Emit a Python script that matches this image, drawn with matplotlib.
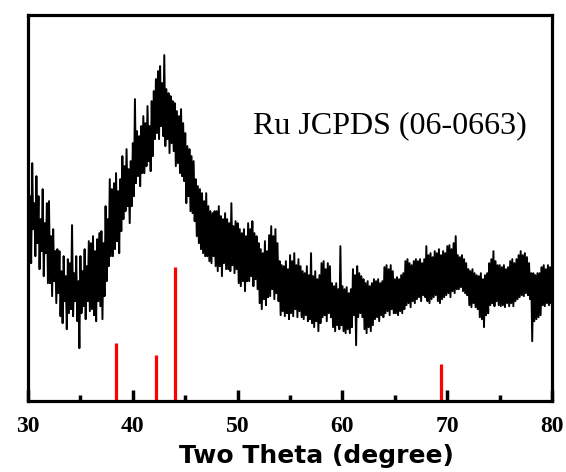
import numpy as np
import matplotlib.pyplot as plt

# 2theta grid, 0.1 degree steps from 30 to 80
two_theta = np.round(np.arange(30.0, 80.001, 0.1), 1)

# intensity (a.u.), 10 points per degree
intensity = [
    228, 150, 205, 138, 238, 172, 198, 145, 225, 158,   # 30
    205, 132, 182, 150, 212, 125, 178, 148, 198, 118,   # 31
    200, 118, 165, 105, 172, 120, 150, 98, 152, 108,    # 32
    150, 85, 130, 78, 145, 100, 125, 72, 142, 88,       # 33
    138, 92, 176, 85, 128, 100, 145, 80, 120, 53,       # 34
    145, 88, 130, 95, 152, 82, 135, 100, 160, 90,       # 35
    158, 92, 165, 86, 150, 80, 162, 100, 168, 95,       # 36
    170, 82, 158, 105, 195, 120, 182, 135, 222, 145,    # 37
    212, 145, 218, 152, 228, 160, 210, 148, 222, 170,   # 38
    245, 182, 235, 190, 252, 195, 232, 178, 240, 195,   # 39
    258, 205, 302, 218, 270, 225, 265, 215, 275, 228,   # 40
    285, 228, 278, 235, 295, 240, 275, 230, 300, 245,   # 41
    310, 262, 322, 268, 330, 262, 335, 275, 318, 265,   # 42
    346, 255, 312, 262, 308, 248, 305, 258, 300, 250,   # 43
    298, 235, 290, 238, 285, 228, 292, 225, 278, 220,   # 44
    268, 198, 255, 205, 252, 190, 245, 188, 240, 180,   # 45
    222, 165, 215, 158, 212, 152, 208, 148, 200, 145,   # 46
    208, 145, 195, 140, 190, 138, 188, 145, 190, 135,   # 47
    190, 130, 195, 135, 185, 125, 182, 138, 188, 132,   # 48
    182, 132, 178, 130, 198, 136, 175, 128, 180, 132,   # 49
    178, 118, 172, 115, 168, 120, 172, 110, 165, 120,   # 50
    178, 120, 172, 125, 180, 115, 168, 122, 165, 112,   # 51
    158, 98, 152, 92, 148, 102, 160, 96, 150, 104,      # 52
    166, 105, 175, 112, 165, 102, 172, 108, 158, 100,   # 53
    140, 86, 136, 90, 135, 85, 140, 88, 132, 82,        # 54
    146, 88, 140, 85, 148, 92, 136, 84, 142, 90,        # 55
    135, 84, 130, 82, 128, 86, 135, 80, 126, 82,        # 56
    148, 78, 125, 74, 130, 80, 122, 70, 126, 78,        # 57
    138, 84, 140, 86, 132, 80, 138, 88, 135, 84,        # 58
    118, 74, 115, 70, 118, 76, 112, 72, 155, 76,        # 59
    115, 70, 112, 68, 114, 72, 108, 68, 112, 74,        # 60
    132, 86, 126, 56, 135, 84, 128, 88, 125, 84,        # 61
    122, 72, 118, 68, 120, 74, 115, 70, 118, 76,        # 62
    122, 82, 120, 84, 122, 80, 118, 86, 120, 84,        # 63
    134, 88, 136, 90, 132, 86, 136, 92, 130, 88,        # 64
    122, 88, 124, 86, 122, 90, 126, 88, 128, 92,        # 65
    140, 96, 142, 98, 138, 94, 136, 100, 140, 98,       # 66
    142, 102, 140, 104, 142, 100, 138, 106, 142, 104,   # 67
    155, 100, 146, 98, 148, 102, 144, 104, 150, 106,    # 68
    148, 100, 152, 98, 146, 102, 150, 104, 148, 106,    # 69
    155, 108, 156, 104, 152, 110, 158, 108, 165, 112,   # 70
    146, 112, 144, 114, 146, 110, 142, 108, 138, 106,   # 71
    132, 96, 130, 94, 132, 98, 128, 94, 126, 92,        # 72
    125, 84, 128, 82, 122, 74, 126, 86, 128, 88,        # 73
    138, 96, 142, 98, 150, 95, 140, 100, 136, 96,       # 74
    136, 95, 134, 96, 136, 94, 132, 98, 134, 95,        # 75
    140, 98, 142, 95, 138, 100, 142, 102, 146, 104,     # 76
    150, 106, 146, 105, 148, 108, 144, 106, 138, 102,   # 77
    128, 60, 128, 80, 126, 82, 128, 84, 128, 86,        # 78
    134, 96, 136, 95, 132, 98, 136, 96, 134, 98,        # 79
    120,                                                # 80
]

# Ru JCPDS (06-0663) reference lines
ref_pos = [38.4, 42.2, 44.0, 69.4]
ref_height = [58, 46, 134, 37]

fig = plt.figure(figsize=(5.66, 4.72), dpi=100)
ax = fig.add_axes([0.0495, 0.150, 0.926, 0.818])

ax.plot(two_theta, intensity, color='black', lw=1.4)
ax.vlines(ref_pos, 0, ref_height, colors='red', lw=2.3)

ax.set_xlim(30, 80)
ax.set_ylim(0, 386)
ax.set_xticks([30, 40, 50, 60, 70, 80])
ax.set_xticks([35, 45, 55, 65, 75], minor=True)
ax.set_yticks([])
ax.tick_params(axis='x', which='major', direction='in', length=8, width=2.5, pad=11)
ax.tick_params(axis='x', which='minor', direction='in', length=4, width=2.5)
for lbl in ax.get_xticklabels():
    lbl.set_family('Liberation Serif')
    lbl.set_weight('bold')
    lbl.set_fontsize(17)
for sp in ax.spines.values():
    sp.set_linewidth(2.3)

ax.set_xlabel('Two Theta (degree)', family='DejaVu Sans', weight='bold',
              fontsize=18, labelpad=4)
ax.xaxis.set_label_coords(0.55, -0.11)
ax.xaxis.label.set_va('top')
ax.text(0.429, 0.694, 'Ru JCPDS (06-0663)', transform=ax.transAxes,
        family='Liberation Serif', fontsize=23, va='baseline')

fig.savefig('out.png', dpi=100)
